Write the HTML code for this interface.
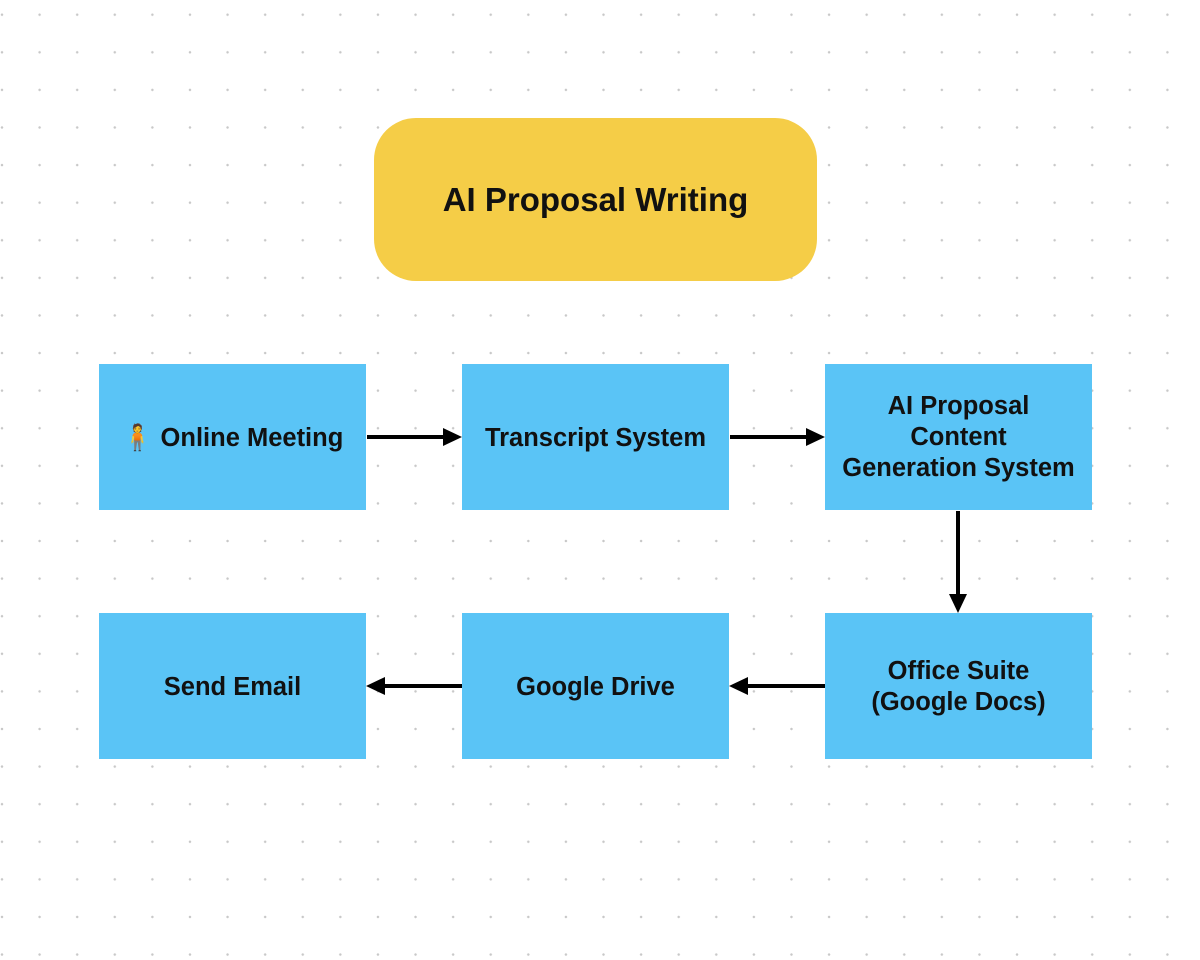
<!DOCTYPE html>
<html><head><meta charset="utf-8"><style>
body{margin:0;width:1200px;height:960px;overflow:hidden;background:#fff;
background-image:radial-gradient(circle,#c8c8c8 1.1px,transparent 1.4px);
background-size:37.6px 37.6px;background-position:-16.8px -4.1px;font-family:"Liberation Sans",sans-serif;}
.b{position:absolute;background:#5AC4F6;display:flex;align-items:center;justify-content:center;text-align:center;font-weight:bold;font-size:25.5px;color:#111;line-height:31px;width:267px;height:146px;white-space:nowrap}
.t{position:absolute;left:374px;top:118px;width:443px;height:163px;background:#F5CD47;border-radius:42px;display:flex;align-items:center;justify-content:center;font-weight:bold;font-size:33px;color:#111}
svg{position:absolute;left:0;top:0}
</style></head><body>
<div class="t">AI Proposal Writing</div>
<div class="b" style="left:99px;top:364px;padding-top:2px;box-sizing:border-box">🧍 Online Meeting</div>
<div class="b" style="left:462px;top:364px;padding-top:2px;box-sizing:border-box">Transcript System</div>
<div class="b" style="left:825px;top:364px">AI Proposal<br>Content<br>Generation System</div>
<div class="b" style="left:99px;top:613px;padding-top:2px;box-sizing:border-box">Send Email</div>
<div class="b" style="left:462px;top:613px;padding-top:2px;box-sizing:border-box">Google Drive</div>
<div class="b" style="left:825px;top:613px;padding-top:2px;box-sizing:border-box">Office Suite<br>(Google Docs)</div>
<svg width="1200" height="960">
<g stroke="#000" stroke-width="4" fill="none">
<line x1="367" y1="437" x2="445" y2="437"/>
<line x1="730" y1="437" x2="808" y2="437"/>
<line x1="958" y1="511" x2="958" y2="596"/>
<line x1="825" y1="686" x2="746" y2="686"/>
<line x1="462" y1="686" x2="384" y2="686"/>
</g>
<g fill="#000">
<polygon points="462,437 443,428 443,446"/>
<polygon points="825,437 806,428 806,446"/>
<polygon points="958,613 949,594 967,594"/>
<polygon points="729,686 748,677 748,695"/>
<polygon points="366,686 385,677 385,695"/>
</g>
</svg>
</body></html>
